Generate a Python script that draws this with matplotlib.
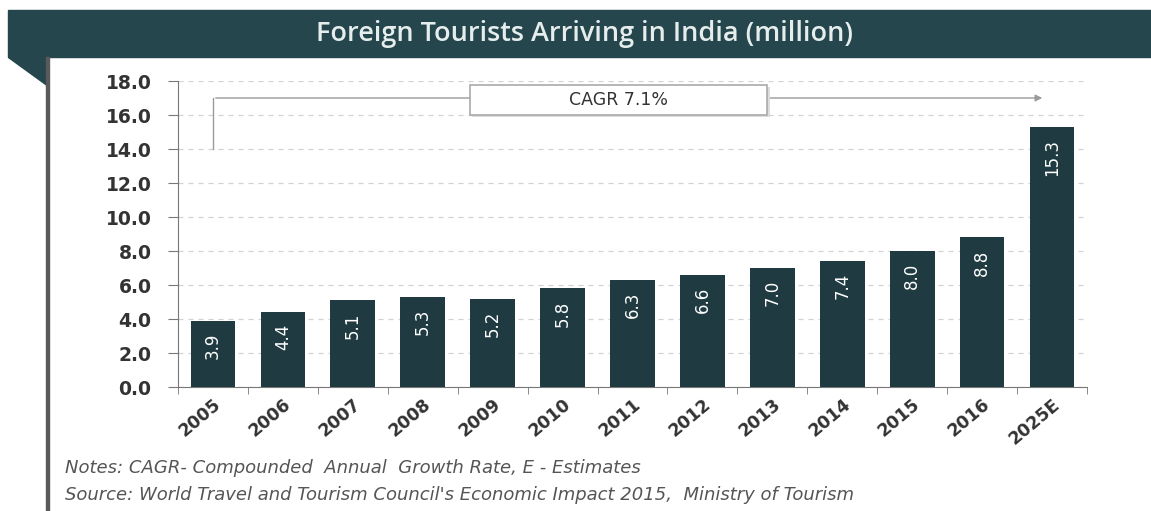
import matplotlib.pyplot as plt
from matplotlib.patches import Rectangle, Polygon
import numpy as np

years = ["2005", "2006", "2007", "2008", "2009", "2010", "2011",
         "2012", "2013", "2014", "2015", "2016", "2025E"]
arrivals = [3.9, 4.4, 5.1, 5.3, 5.2, 5.8, 6.3, 6.6, 7.0, 7.4, 8.0, 8.8, 15.3]
yticks = [0, 2, 4, 6, 8, 10, 12, 14, 16, 18]
title = "Foreign Tourists Arriving in India (million)"
cagr_label = "CAGR 7.1%"
notes = "Notes: CAGR- Compounded  Annual  Growth Rate, E - Estimates"
source = "Source: World Travel and Tourism Council's Economic Impact 2015,  Ministry of Tourism"

BAR = "#1f3b41"
HEAD = "#24464c"
plt.rcParams["font.family"] = ["DejaVu Sans"]

fig = plt.figure(figsize=(11.51, 5.11), dpi=100)
W, H = 1151, 511

# header band + folded corner + left border
fig.patches.append(Rectangle((8 / W, 1 - 57 / H), 1 - 8 / W, 47 / H,
                             transform=fig.transFigure, color=HEAD, zorder=0))
fig.patches.append(Polygon([(8 / W, 1 - 57 / H), (48 / W, 1 - 57 / H), (48 / W, 1 - 86 / H)],
                           closed=True, transform=fig.transFigure, color=HEAD, zorder=0))
fig.patches.append(Rectangle((46 / W, 0), 3 / W, 1 - 57 / H,
                             transform=fig.transFigure, color="#5a5a5a", zorder=0))
fig.text(0.508, 1 - 34 / H, title, color="#e6eded", fontsize=19.5, fontweight="semibold",
         family="Open Sans", ha="center", va="center")

ax = fig.add_axes([178 / W, 1 - 387 / H, (1087 - 178) / W, (387 - 81) / H])
x = np.arange(len(years))
ax.bar(x, arrivals, width=0.64, color=BAR, zorder=3)
for xi, v in zip(x, arrivals):
    ax.text(xi, v - 0.7, f"{v:.1f}", rotation=90, ha="center", va="top",
            color="white", fontsize=12, zorder=4)

ax.set_xlim(-0.5, len(years) - 0.5)
ax.set_ylim(0, 18)
ax.set_yticks(yticks)
ax.set_yticklabels([f"{t:.1f}" for t in yticks], fontsize=13.5, fontweight="bold", color="#333333")
ax.tick_params(axis="y", length=7, color="#777777", pad=12)
ax.set_xticks(x)
ax.set_xticklabels(years, rotation=40, ha="right", rotation_mode="anchor",
                   fontsize=12.5, fontweight="bold", color="#333333")
ax.tick_params(axis="x", length=0, pad=6)
ax.set_xticks(np.arange(-0.5, len(years)), minor=True)
ax.tick_params(axis="x", which="minor", length=5, color="#777777")
for s in ["top", "right"]:
    ax.spines[s].set_visible(False)
ax.spines["left"].set_color("#777777")
ax.spines["bottom"].set_color("#777777")
ax.grid(axis="y", linestyle=(0, (4, 4)), color="#d2d2d2", linewidth=0.9, zorder=0)

# CAGR arrow
ax.plot([0, 0, 0], [14, 17, 17], color="#9a9a9a", lw=1, zorder=2)
ax.annotate("", xy=(11.9, 17), xytext=(0, 17),
            arrowprops=dict(arrowstyle="-|>", color="#9a9a9a", lw=1), zorder=2)
bx0, bw, by0, bh = 5.8 - 2.13, 4.26, 16.0, 1.75
ax.add_patch(Rectangle((bx0 + 0.03, by0 - 0.1), bw, bh, fc="#dddddd", ec="none", zorder=4))
ax.add_patch(Rectangle((bx0, by0), bw, bh, fc="white", ec="#aaaaaa", lw=1.2, zorder=5))
ax.text(5.8, by0 + bh / 2, cagr_label, ha="center", va="center", fontsize=12.5,
        color="#333333", zorder=6)

fig.text(65 / W, 1 - 468 / H, notes, fontsize=13, style="italic", color="#555555", va="center")
fig.text(65 / W, 1 - 495 / H, source, fontsize=13, style="italic", color="#555555", va="center")

fig.savefig("out.png", dpi=100, facecolor="white")
